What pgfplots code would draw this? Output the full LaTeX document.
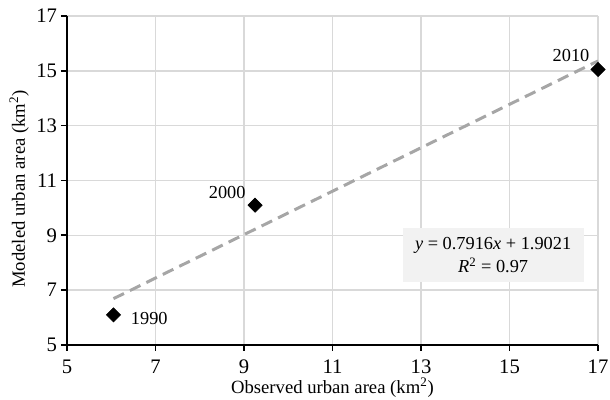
\documentclass[border=0pt]{standalone}
\usepackage{pgfplots}
\pgfplotsset{compat=1.18}
\usepackage{fontspec}
\setmainfont{Liberation Serif}
\definecolor{gridc}{HTML}{D9D9D9}
\definecolor{trend}{HTML}{A6A6A6}
\definecolor{boxc}{HTML}{F2F2F2}
\begin{document}
\fontsize{11}{13}\selectfont
\begin{tikzpicture}
\begin{axis}[
  scale only axis,
  width=318.6pt, height=197.4pt,
  xmin=5, xmax=17, ymin=5, ymax=17,
  xtick={5,7,...,17}, ytick={5,7,...,17},
  axis x line*=bottom, axis y line*=left,
  x axis line style={-, line width=1.2pt},
  y axis line style={-, line width=1.2pt},
  grid=major, major grid style={gridc, line width=0.9pt},
  tick align=outside, major tick length=3.6pt,
  tick style={black, line width=1pt},
  /pgf/number format/assume math mode=true,
  ticklabel style={font=\fontsize{12.4}{14}\selectfont},
  xticklabel style={yshift=-1.5pt},
  yticklabel style={xshift=1.5pt},
  xlabel={Observed urban area (km\textsuperscript{2})},
  ylabel={Modeled urban area (km\textsuperscript{2})},
  label style={font=\fontsize{11.2}{13}\selectfont},
  xlabel style={yshift=5pt},
  ylabel style={yshift=-3pt, xshift=-5pt},
  clip=false,
]
\addplot[trend, line width=1.8pt, dash pattern=on 7pt off 4pt] coordinates {(6.05,6.69) (17,15.36)};
\addplot[only marks, mark=square*, mark size=3pt, mark options={rotate=45, fill=black, draw=black}]
  coordinates {(6.05,6.1) (9.25,10.1) (17,15.05)};
\node[right] at (axis cs:6.3,5.95) {1990};
\node[anchor=south east] at (axis cs:9.18,10.1) {2000};
\node[anchor=south east] at (axis cs:16.95,15.1) {2010};
\node[fill=boxc, inner xsep=7.5pt, inner ysep=5.5pt, align=center] at (axis cs:14.63,8.27)
  {\textit{y} = 0.7916\textit{x} + 1.9021\\[1pt]\textit{R}\textsuperscript{2} = 0.97};
\end{axis}
\pgfresetboundingbox
\path[use as bounding box] (-40.2pt,-33pt) rectangle (325.8pt,207pt);
\end{tikzpicture}
\end{document}
